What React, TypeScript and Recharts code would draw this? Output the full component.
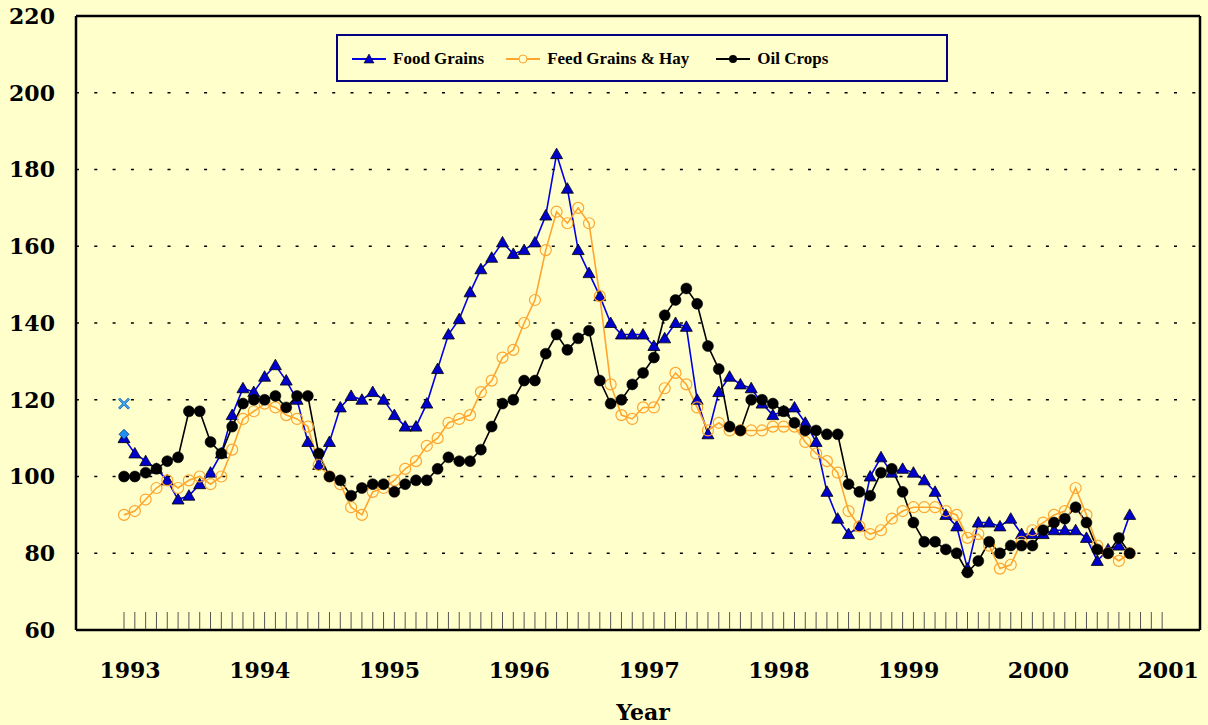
import React from 'react';
import { CartesianGrid, Legend, Line, LineChart, ReferenceLine, XAxis, YAxis } from 'recharts';

// monthly index series, Jan 1993 .. Oct 2000
const years = ['1993', '1994', '1995', '1996', '1997', '1998', '1999', '2000', '2001'];

const foodGrains = [
  110, 106, 104, 102, 99, 94, 95, 98, 101, 106, 116, 123,
  122, 126, 129, 125, 120, 109, 103, 109, 118, 121, 120, 122,
  120, 116, 113, 113, 119, 128, 137, 141, 148, 154, 157, 161,
  158, 159, 161, 168, 184, 175, 159, 153, 147, 140, 137, 137,
  137, 134, 136, 140, 139, 120, 111, 122, 126, 124, 123, 119,
  116, 117, 118, 114, 109, 96, 89, 85, 87, 100, 105, 101,
  102, 101, 99, 96, 90, 87, 76, 88, 88, 87, 89, 85,
  85, 85, 86, 86, 86, 84, 78, 81, 82, 90,
];

const feedGrainsHay = [
  90, 91, 94, 97, 99, 97, 99, 100, 98, 100, 107, 115,
  117, 119, 118, 116, 115, 113, 103, 100, 98, 92, 90, 96,
  97, 99, 102, 104, 108, 110, 114, 115, 116, 122, 125, 131,
  133, 140, 146, 159, 169, 166, 170, 166, 147, 124, 116, 115,
  118, 118, 123, 127, 124, 118, 112, 114, 112, 112, 112, 112,
  113, 113, 113, 109, 106, 104, 101, 91, 87, 85, 86, 89,
  91, 92, 92, 92, 91, 90, 84, 85, 82, 76, 77, 83,
  86, 88, 90, 91, 97, 90, 82, 80, 78, 80,
];

const oilCrops = [
  100, 100, 101, 102, 104, 105, 117, 117, 109, 106, 113, 119,
  120, 120, 121, 118, 121, 121, 106, 100, 99, 95, 97, 98,
  98, 96, 98, 99, 99, 102, 105, 104, 104, 107, 113, 119,
  120, 125, 125, 132, 137, 133, 136, 138, 125, 119, 120, 124,
  127, 131, 142, 146, 149, 145, 134, 128, 113, 112, 120, 120,
  119, 117, 114, 112, 112, 111, 111, 98, 96, 95, 101, 102,
  96, 88, 83, 83, 81, 80, 75, 78, 83, 80, 82, 82,
  82, 86, 88, 89, 92, 88, 81, 80, 84, 80,
];

// two lone markers sitting at Jan 1993
const strayCross = [119];
const strayDiamond = [111];

const yTicks = [60, 80, 100, 120, 140, 160, 180, 200, 220];
const legendNames = ['Food Grains', 'Feed Grains & Hay', 'Oil Crops'];

const data = foodGrains.map((v, i) => ({
  i,
  food: v,
  feed: feedGrainsHay[i] ?? null,
  oil: oilCrops[i] ?? null,
  cross: strayCross[i] ?? null,
  diamond: strayDiamond[i] ?? null,
}));

const monthTicks = Array.from({ length: (years.length - 1) * 12 + 1 }, (_, k) => k);

const BG = '#FFFFCC';
const BLUE = '#0000E6';
const ORANGE = '#FFA52E';
const FONT = '"DejaVu Serif", serif';

function TriangleDot(props: any) {
  const { cx, cy, index } = props;
  if (cx == null || cy == null) return <g key={`t${index}`} />;
  return (
    <path
      key={`t${index}`}
      d={`M${cx},${cy - 6} L${cx + 6},${cy + 4.5} L${cx - 6},${cy + 4.5} Z`}
      fill="#0000CC"
      stroke="#000"
      strokeWidth={0.8}
    />
  );
}

function CrossDot(props: any) {
  const { cx, cy, index } = props;
  if (cx == null || cy == null || props.value == null) return <g key={`c${index}`} />;
  return (
    <g key={`c${index}`} stroke="#1060C0" strokeWidth={2.6}>
      <line x1={cx - 5} y1={cy - 5} x2={cx + 5} y2={cy + 5} />
      <line x1={cx - 5} y1={cy + 5} x2={cx + 5} y2={cy - 5} />
      <line x1={cx - 5} y1={cy - 5} x2={cx + 5} y2={cy + 5} stroke="#66DDFF" strokeWidth={1} />
      <line x1={cx - 5} y1={cy + 5} x2={cx + 5} y2={cy - 5} stroke="#66DDFF" strokeWidth={1} />
    </g>
  );
}

function DiamondDot(props: any) {
  const { cx, cy, index } = props;
  if (cx == null || cy == null || props.value == null) return <g key={`d${index}`} />;
  return (
    <path
      key={`d${index}`}
      d={`M${cx},${cy - 5} L${cx + 5},${cy} L${cx},${cy + 5} L${cx - 5},${cy} Z`}
      fill="#2090F0"
      stroke="#003080"
      strokeWidth={0.8}
    />
  );
}

function XTick(props: any) {
  const { x, y, payload } = props;
  const v = payload.value as number;
  return (
    <g>
      <line x1={x} x2={x} y1={y - 1} y2={y - 18} stroke="#555" strokeWidth={1} />
      {v % 12 === 0 && (
        <text x={x + 6} y={y + 48} textAnchor="middle" fontFamily={FONT} fontWeight="bold" fontSize={22} fill="#000">
          {years[v / 12]}
        </text>
      )}
    </g>
  );
}

function YTick(props: any) {
  const { x, y, payload } = props;
  return (
    <text x={x} y={y} dy="0.36em" textAnchor="end" fontFamily={FONT} fontWeight="bold" fontSize={22} fill="#000">
      {payload.value}
    </text>
  );
}

function LegendIcon({ kind }: { kind: number }) {
  const color = kind === 0 ? BLUE : kind === 1 ? ORANGE : '#000';
  return (
    <svg width={34} height={14} style={{ display: 'block' }}>
      <line x1={0} x2={34} y1={7} y2={7} stroke={color} strokeWidth={2} />
      {kind === 0 && <path d="M17,2 L22,11 L12,11 Z" fill="#0000CC" stroke="#000" strokeWidth={0.6} />}
      {kind === 1 && <circle cx={17} cy={7} r={4} fill={BG} stroke={ORANGE} strokeWidth={1} />}
      {kind === 2 && <circle cx={17} cy={7} r={4} fill="#000" />}
    </svg>
  );
}

function LegendBox() {
  const gaps = [0, 22, 27];
  return (
    <div
      style={{
        boxSizing: 'border-box',
        width: 612,
        height: 48,
        border: '2px solid #000080',
        background: BG,
        display: 'flex',
        alignItems: 'center',
        paddingLeft: 14,
        paddingTop: 2,
      }}
    >
      {legendNames.map((name, k) => (
        <div key={name} style={{ display: 'flex', alignItems: 'center', marginLeft: gaps[k] }}>
          <LegendIcon kind={k} />
          <span
            style={{
              marginLeft: 7,
              fontFamily: '"Liberation Serif", serif',
              fontWeight: 'bold',
              fontSize: 17,
              color: '#000',
            }}
          >
            {name}
          </span>
        </div>
      ))}
    </div>
  );
}

export default function App() {
  return (
    <div style={{ position: 'fixed', left: 0, top: 0, width: 1208, height: 725, background: BG }}>
      <LineChart width={1208} height={725} data={data} margin={{ top: 16, right: 8, bottom: 0, left: 0 }}>
        <CartesianGrid vertical={false} stroke="#000" strokeWidth={1.4} strokeDasharray="3 15.3" />
        <XAxis
          dataKey="i"
          type="number"
          domain={[-4.44, 99.5]}
          allowDataOverflow
          ticks={monthTicks}
          interval={0}
          tickLine={false}
          tickSize={0}
          tickMargin={0}
          tick={<XTick />}
          height={95}
          axisLine={{ stroke: '#000', strokeWidth: 2.5 }}
          label={{
            value: 'Year',
            position: 'insideBottom',
            offset: 5,
            dx: 5,
            style: { fontFamily: FONT, fontWeight: 'bold', fontSize: 22, fill: '#000' },
          }}
        />
        <YAxis
          type="number"
          domain={[60, 220]}
          ticks={yTicks}
          interval={0}
          allowDataOverflow
          width={76}
          tickLine={false}
          tickSize={0}
          tickMargin={21}
          tick={<YTick />}
          axisLine={{ stroke: '#000', strokeWidth: 2.5 }}
        />
        <ReferenceLine y={220} stroke="#000" strokeWidth={2.5} />
        <ReferenceLine x={99.5} stroke="#000" strokeWidth={2.5} />
        <Legend
          verticalAlign="middle"
          align="center"
          layout="horizontal"
          content={() => <LegendBox />}
          wrapperStyle={{ top: 34, left: 336, width: 612, height: 48 }}
        />
        <Line
          dataKey="food"
          name="Food Grains"
          stroke={BLUE}
          strokeWidth={1.6}
          dot={TriangleDot}
          activeDot={false}
          isAnimationActive={false}
        />
        <Line
          dataKey="feed"
          name="Feed Grains & Hay"
          stroke={ORANGE}
          strokeWidth={1.6}
          dot={{ r: 5.5, fill: 'none', stroke: ORANGE, strokeWidth: 1.2 }}
          activeDot={false}
          isAnimationActive={false}
        />
        <Line
          dataKey="oil"
          name="Oil Crops"
          stroke="#000"
          strokeWidth={1.6}
          dot={{ r: 5.5, fill: '#000', stroke: '#000', strokeWidth: 0.5 }}
          activeDot={false}
          isAnimationActive={false}
        />
        <Line
          dataKey="cross"
          stroke="none"
          legendType="none"
          dot={CrossDot}
          activeDot={false}
          isAnimationActive={false}
        />
        <Line
          dataKey="diamond"
          stroke="none"
          legendType="none"
          dot={DiamondDot}
          activeDot={false}
          isAnimationActive={false}
        />
      </LineChart>
    </div>
  );
}
